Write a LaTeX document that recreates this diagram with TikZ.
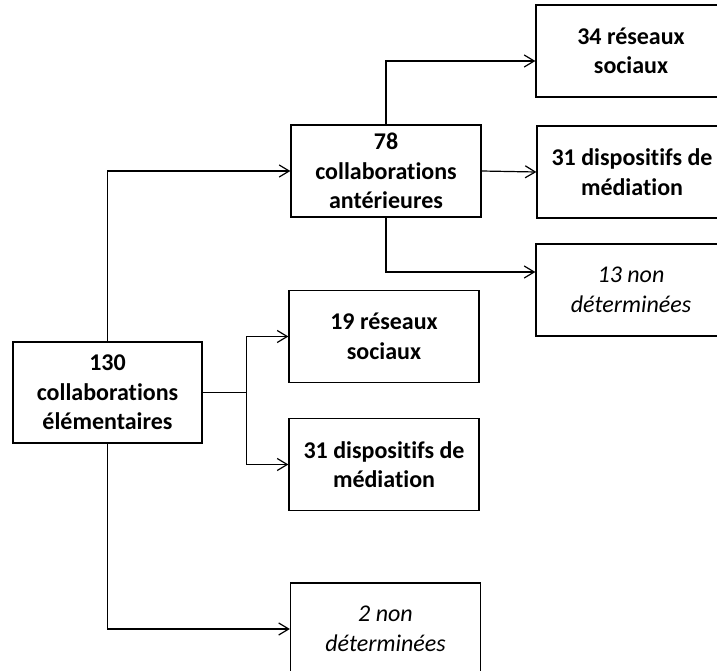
\documentclass[tikz,border=0pt]{standalone}
\usepackage{fontspec}
\setmainfont[Ligatures={NoCommon}]{Carlito}
\usetikzlibrary{arrows.meta}
\begin{document}
\begin{tikzpicture}[x=1pt,y=-1pt,
  box/.style={draw, line width=1.3pt, rectangle, minimum width=190pt, minimum height=92pt,
    align=center, inner sep=0pt, font=\fontsize{24}{29.5}\selectfont\bfseries},
  nd/.style={box, font=\fontsize{24}{29.5}\selectfont\itshape},
  conn/.style={line width=1.2pt},
  arr/.style={conn, -{Straight Barb[length=10pt,width=12pt,line width=1.2pt]}}]
\useasboundingbox[fill=white] (0,0) rectangle (717,671);
\node[box, minimum width=189pt, minimum height=101pt] (a) at (107.5,392.5) {130\\collaborations\\élémentaires};
\node[box] (b) at (386,171) {78\\collaborations\\antérieures};
\node[box] (c) at (631,51) {34 réseaux\\sociaux};
\node[box] (d) at (632,172) {31 dispositifs de\\médiation};
\node[nd] (e) at (631,290) {13 non\\déterminées};
\node[box] (f) at (384,336.5) {19 réseaux\\sociaux};
\node[box] (g) at (384,464.5) {31 dispositifs de\\médiation};
\node[nd] (h) at (385.5,629) {2 non\\déterminées};
\draw[arr] (a.north) |- (b.west);
\draw[conn] (a.east) -- ++(44,0) coordinate (j);
\draw[arr] (j) |- (f.west);
\draw[arr] (j) |- (g.west);
\draw[arr] (a.south) |- (h.west);
\draw[arr] (b.north) |- ([yshift=-10pt]c.west);
\draw[arr] (b.east) -- (d.west);
\draw[arr] (b.south) |- ([yshift=18pt]e.west);
\end{tikzpicture}
\end{document}
